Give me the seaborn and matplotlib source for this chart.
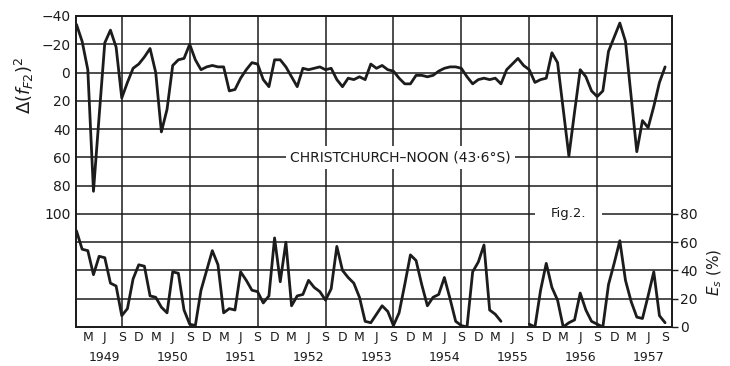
import numpy as np
import pandas as pd
import matplotlib
matplotlib.use("Agg")
import matplotlib.pyplot as plt
import seaborn as sns

# monthly values, month 0 = Jan 1949 ... month 104 = Sep 1957
delta_f2 = [-34, -22, -2, 84, 31, -21, -30, -18, 18, 7, -3, -6,
            -11, -17, 0, 42, 26, -5, -9, -10, -20, -9, -2, -4,
            -5, -4, -4, 13, 12, 4, -2, -7, -6, 5, 10, -9,
            -9, -4, 3, 10, -3, -2, -3, -4, -2, -3, 5, 10,
            4, 5, 3, 5, -6, -3, -5, -2, -1, 4, 8, 8,
            2, 2, 3, 2, -1, -3, -4, -4, -3, 3, 8, 5,
            4, 5, 4, 8, -2, -6, -10, -5, -2, 7, 5, 4,
            -14, -7, 26, 59, 28, -2, 3, 13, 17, 13, -15, -25,
            -35, -22, 17, 56, 34, 39, 24, 7, -4]

nan = np.nan
es_pct = [68, 55, 54, 37, 50, 49, 31, 29, 8, 13, 34, 44,
          43, 22, 21, 14, 10, 39, 38, 12, 2, 1, 26, 40,
          54, 44, 10, 13, 12, 39, 33, 26, 25, 17, 22, 63,
          32, 60, 15, 22, 23, 33, 28, 25, 19, 27, 57, 40,
          35, 31, 21, 4, 3, 9, 15, 11, 1, 10, 30, 51,
          47, 30, 15, 21, 23, 35, 20, 4, 1, 0, 39, 46,
          58, 12, 9, 4, nan, nan, nan, nan, 2, 0, 26, 45,
          28, 19, 0, 3, 5, 24, 12, 4, 2, 0, 30, 45,
          61, 33, 18, 7, 6, 22, 39, 8, 3]

month_letters = ["M", "J", "S", "D"]
years = [1949, 1950, 1951, 1952, 1953, 1954, 1955, 1956, 1957]

sns.set_theme(style="white")
plt.rcParams['font.family'] = ['DejaVu Sans']
ink = "#1c1c1c"

df = pd.DataFrame({"month": np.arange(len(delta_f2)),
                   "delta": delta_f2, "es": es_pct})
df["segment"] = df["es"].isna().cumsum()   # break the Es line at the gap

fig = plt.figure(figsize=(7.3, 3.66), dpi=100)
ax = fig.add_axes([0.104, 0.1066, 0.8164, 0.8497])
ax2 = ax.twinx()

ax.set_xlim(-0.1, 105.2)
ax.set_ylim(180, -40)
ax2.set_ylim(0, 220)

# grid
for v in range(-20, 180, 20):
    ax.axhline(v, color=ink, lw=1.1, zorder=1)
for m in range(8, 100, 12):
    ax.axvline(m, color=ink, lw=1.1, zorder=2)

sns.lineplot(data=df, x="month", y="delta", ax=ax, color=ink, lw=2.0, zorder=3)
sns.lineplot(data=df, x="month", y="es", units="segment", estimator=None,
             ax=ax2, color=ink, lw=2.0)

for a in (ax, ax2):
    for s in a.spines.values():
        s.set_color(ink)
        s.set_linewidth(1.3)
    a.set_xlabel("")
    a.set_ylabel("")

xt = list(range(2, 105, 3))
ax.set_xticks(xt)
ax.set_xticklabels([month_letters[i % 4] for i in range(len(xt))])
ax.tick_params(axis="x", direction="in", length=4, width=1, pad=3,
               labelsize=9, colors=ink)

ax.set_yticks([-40, -20, 0, 20, 40, 60, 80, 100])
ax.set_yticklabels(["\u221240", "\u221220", "0", "20", "40", "60", "80", "100"])
ax.tick_params(axis="y", length=0, pad=4, labelsize=10, colors=ink)

ax2.set_yticks([0, 20, 40, 60, 80])
ax2.tick_params(axis="y", direction="out", length=4, width=1, pad=2,
                labelsize=10, colors=ink)

for i, yr in enumerate(years):
    ax.text(5 + 12 * i, -0.097, str(yr), transform=ax.get_xaxis_transform(),
            ha="center", va="center", fontsize=9, color=ink)

fig.text(0.033, 0.768, r"$\Delta(f_{F2})^2$", rotation=90, ha="center",
         va="center", fontsize=13, color=ink)
fig.text(0.979, 0.257, r"$E_s$ (%)", rotation=90, ha="center", va="center",
         fontsize=11, color=ink)

ax.text(57.3, 60, "CHRISTCHURCH\u2013NOON (43\u00b76\u00b0S)", ha="center",
        va="center", fontsize=10, color=ink, zorder=4,
        bbox=dict(facecolor="white", edgecolor="none", boxstyle="square,pad=0.3"))
ax.text(86.9, 100, "Fig.2.", ha="center", va="center", fontsize=9.5,
        color=ink, zorder=1.5,
        bbox=dict(facecolor="white", edgecolor="none", boxstyle="square,pad=1.2"))

fig.savefig("out.png", dpi=100, facecolor="white")
